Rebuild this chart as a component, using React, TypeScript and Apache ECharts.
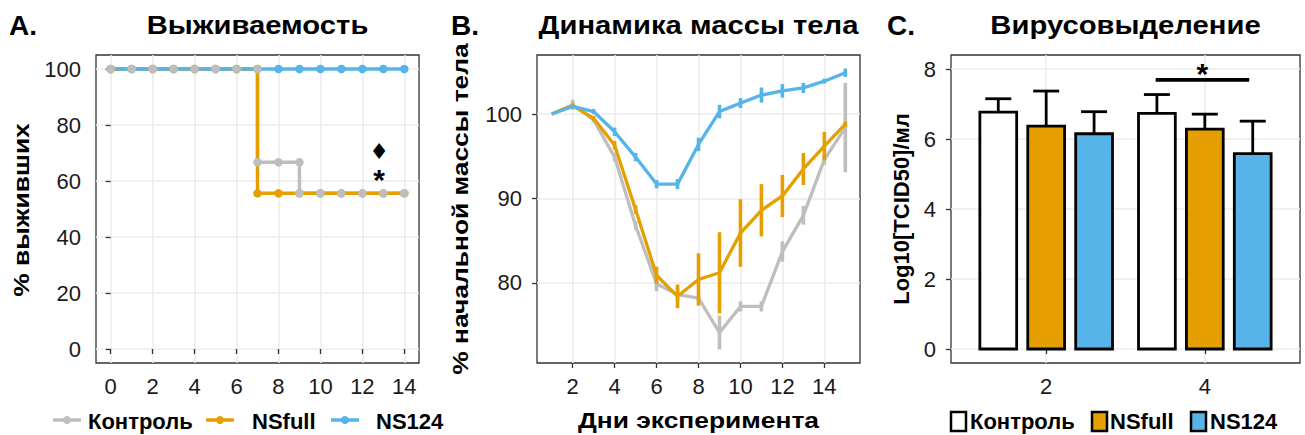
import React, { useEffect, useRef } from "react";
import * as echarts from "echarts";

const FONT = '"Liberation Sans", Arial, Helvetica, sans-serif';
const GRAY = "#BEBEBE";
const ORANGE = "#E69F00";
const BLUE = "#56B4E9";
const TXT = "#1a1a1a";

const groupNames = ["Контроль", "NSfull", "NS124"];
const panelTitles = ["Выживаемость", "Динамика массы тела", "Вирусовыделение"];
const panelLetters = ["A.", "B.", "C."];
const axisTitles = ["% выживших", "% начальной массы тела", "Дни эксперимента", "Log10[TCID50]/мл"];

// ---------- Panel A: survival ----------
const survivalControl: number[][] = [
  [0, 100], [1, 100], [2, 100], [3, 100], [4, 100], [5, 100], [6, 100], [7, 100],
  [7, 66.7], [8, 66.7], [9, 66.7], [9, 55.6], [10, 55.6], [11, 55.6], [12, 55.6], [13, 55.6], [14, 55.6],
];
const survivalNSfull: number[][] = [
  [0, 100], [1, 100], [2, 100], [3, 100], [4, 100], [5, 100], [6, 100], [7, 100],
  [7, 55.6], [8, 55.6], [9, 55.6], [10, 55.6], [11, 55.6], [12, 55.6], [13, 55.6], [14, 55.6],
];
const survivalNS124: number[][] = [
  [0, 100], [1, 100], [2, 100], [3, 100], [4, 100], [5, 100], [6, 100], [7, 100],
  [8, 100], [9, 100], [10, 100], [11, 100], [12, 100], [13, 100], [14, 100],
];
const survivalTicksX = [0, 2, 4, 6, 8, 10, 12, 14];
const survivalTicksY = [0, 20, 40, 60, 80, 100];
const survivalMarks = ["♦", "*"];

// ---------- Panel B: body weight ----------
const weightDays = [1, 2, 3, 4, 5, 6, 7, 8, 9, 10, 11, 12, 13, 14, 15];
const weightControl = [100, 101.1, 99.3, 94.9, 86.8, 79.9, 78.6, 78.2, 74.1, 77.2, 77.2, 83.7, 88.0, 94.6, 98.4];
const weightControlErr = [0, 0.6, 0.3, 0.5, 0.5, 0.9, 0.8, 0.4, 2.0, 0.6, 0.6, 1.2, 1.1, 0.6, 5.3];
const weightNSfull = [100, 101.0, 99.5, 96.3, 88.7, 80.9, 78.4, 80.4, 81.2, 85.9, 88.6, 90.3, 93.5, 96.2, 98.8];
const weightNSfullErr = [0, 0.3, 0.3, 0.5, 0.5, 1.0, 1.4, 3.1, 4.8, 4.0, 3.1, 2.5, 1.9, 1.7, 0.3];
const weightNS124 = [100, 100.9, 100.3, 97.9, 94.9, 91.7, 91.7, 96.4, 100.3, 101.3, 102.25, 102.75, 103.1, 103.9, 104.9];
const weightNS124Err = [0, 0.2, 0.3, 0.5, 0.5, 0.5, 0.6, 0.8, 0.8, 0.6, 0.9, 0.8, 0.6, 0.3, 0.5];
const weightTicksX = [2, 4, 6, 8, 10, 12, 14];
const weightTicksY = [80, 90, 100];

// ---------- Panel C: virus shedding ----------
const virusDays = ["2", "4"];
const virusControl = [6.77, 6.73];
const virusControlErr = [0.38, 0.54];
const virusNSfull = [6.37, 6.28];
const virusNSfullErr = [1.0, 0.43];
const virusNS124 = [6.15, 5.58];
const virusNS124Err = [0.63, 0.93];
const virusTicksY = [0, 2, 4, 6, 8];
const virusSignif = "*";

const axisBase = (ticks: number[], margin: number) => ({
  type: "value",
  axisLine: { show: false },
  axisTick: { show: true, length: 5, customValues: ticks, lineStyle: { color: "#333", width: 1.3 } },
  axisLabel: { customValues: ticks, color: TXT, fontSize: 22, fontFamily: FONT, margin },
  splitLine: { show: true, lineStyle: { color: "#EBEBEB", width: 1.5 } },
});

function errRender(color: string) {
  return (params: any, api: any) => {
    const x = api.value(0), m = api.value(1), e = api.value(2);
    if (!e) return null;
    const p1 = api.coord([x, m - e]);
    const p2 = api.coord([x, m + e]);
    return {
      type: "line",
      shape: { x1: p1[0], y1: p1[1], x2: p2[0], y2: p2[1] },
      style: { stroke: color, lineWidth: 3.6 },
    };
  };
}

function barRender(fill: string, offset: number) {
  return (params: any, api: any) => {
    const x = api.value(0) + offset, m = api.value(1), e = api.value(2);
    const half = 0.116, cap = 0.082;
    const tl = api.coord([x - half, m]);
    const br = api.coord([x + half, 0]);
    const top = api.coord([x, m + e]);
    const cl = api.coord([x - cap, m + e]);
    const cr = api.coord([x + cap, m + e]);
    return {
      type: "group",
      children: [
        { type: "line", shape: { x1: top[0], y1: tl[1], x2: top[0], y2: top[1] }, style: { stroke: "#000", lineWidth: 2.8 } },
        { type: "line", shape: { x1: cl[0], y1: cl[1], x2: cr[0], y2: cr[1] }, style: { stroke: "#000", lineWidth: 2.8 } },
        { type: "rect", shape: { x: tl[0], y: tl[1], width: br[0] - tl[0], height: br[1] - tl[1] }, style: { fill, stroke: "#000", lineWidth: 2.8 } },
      ],
    };
  };
}

export default function App() {
  const ref = useRef<HTMLDivElement>(null);
  useEffect(() => {
    if (!ref.current) return;
    const chart = echarts.init(ref.current, null, { renderer: "svg" });

    const wB = (vals: number[], errs: number[]) => weightDays.map((d, i) => [d, vals[i], errs[i]]);
    const vC = (vals: number[], errs: number[]) => vals.map((v, i) => [i + 1, v, errs[i]]);

    const text = (x: number, y: number, t: string, size: number, align = "left", scaleX = 1, rotation = 0) => ({
      type: "text",
      x,
      y,
      scaleX,
      rotation,
      style: { text: t, fontSize: size, fontWeight: "bold", fontFamily: FONT, fill: "#000", align, verticalAlign: "middle" },
    });

    const lgA = (x: number, color: string, label: string, tx: number) => [
      { type: "line", shape: { x1: x, y1: 420, x2: x + 28, y2: 420 }, style: { stroke: color, lineWidth: 3.5 } },
      { type: "circle", shape: { cx: x + 14, cy: 420, r: 4 }, style: { fill: color } },
      text(tx, 421, label, 22),
    ];
    const lgC = (x: number, color: string, label: string, tx: number) => [
      { type: "rect", shape: { x, y: 412, width: 15, height: 19 }, style: { fill: color, stroke: "#000", lineWidth: 2.5 } },
      text(tx, 421, label, 22),
    ];

    const gridBox = { top: 55, height: 308, show: true, borderColor: "#333", borderWidth: 1.3, backgroundColor: "#fff" };

    const option: any = {
      animation: false,
      backgroundColor: "#fff",
      grid: [
        { ...gridBox, left: 96, width: 323 },
        { ...gridBox, left: 537, width: 323 },
        { ...gridBox, left: 951, width: 349 },
      ],
      xAxis: [
        { ...axisBase(survivalTicksX, 12), gridIndex: 0, min: -0.7, max: 14.7 },
        { ...axisBase(weightTicksX, 12), gridIndex: 1, min: 0.3, max: 15.7 },
        {
          ...axisBase([1, 2], 12), gridIndex: 2, min: 0.4, max: 2.6,
          axisLabel: { ...axisBase([1, 2], 12).axisLabel, formatter: (v: number) => virusDays[Math.round(v) - 1] },
        },
      ],
      yAxis: [
        { ...axisBase(survivalTicksY, 15), gridIndex: 0, min: -5, max: 105 },
        { ...axisBase(weightTicksY, 15), gridIndex: 1, min: 70.5, max: 107 },
        {
          ...axisBase(virusTicksY, 15), gridIndex: 2, min: -0.4, max: 8.4,
          name: axisTitles[3], nameLocation: "middle", nameGap: 39,
          nameTextStyle: { fontSize: 22, fontWeight: "bold", fontFamily: FONT, color: "#000" },
        },
      ],
      series: [
        // Panel A lines
        { name: groupNames[0], type: "line", xAxisIndex: 0, yAxisIndex: 0, data: survivalControl, symbol: "none", lineStyle: { color: GRAY, width: 3.5 }, z: 2 },
        { name: groupNames[1], type: "line", xAxisIndex: 0, yAxisIndex: 0, data: survivalNSfull, symbol: "none", lineStyle: { color: ORANGE, width: 3.5 }, z: 3 },
        { name: groupNames[2], type: "line", xAxisIndex: 0, yAxisIndex: 0, data: survivalNS124, symbol: "none", lineStyle: { color: BLUE, width: 3.5 }, z: 4 },
        // Panel A points
        { name: groupNames[2], type: "scatter", xAxisIndex: 0, yAxisIndex: 0, data: survivalNS124, symbolSize: 8.5, itemStyle: { color: BLUE, opacity: 1 }, z: 5 },
        { name: groupNames[1], type: "scatter", xAxisIndex: 0, yAxisIndex: 0, data: survivalNSfull, symbolSize: 8.5, itemStyle: { color: ORANGE, opacity: 1 }, z: 6 },
        { name: groupNames[0], type: "scatter", xAxisIndex: 0, yAxisIndex: 0, data: survivalControl, symbolSize: 8.5, itemStyle: { color: GRAY, opacity: 1 }, z: 7 },
        // Panel A annotations
        {
          type: "custom", xAxisIndex: 0, yAxisIndex: 0, z: 8, data: [[12.8, 70.5, 0], [12.8, 62.5, 1]],
          renderItem: (params: any, api: any) => {
            const p = api.coord([api.value(0), api.value(1)]);
            const idx = api.value(2);
            return {
              type: "text", x: p[0], y: idx === 1 ? p[1] + 5 : p[1],
              style: { text: survivalMarks[idx], fontSize: idx === 1 ? 30 : 22, fontWeight: "bold", fontFamily: idx === 1 ? FONT : '"DejaVu Sans", sans-serif', fill: "#000", align: "center", verticalAlign: "middle" },
            };
          },
        },
        // Panel B lines + error bars
        { name: groupNames[0], type: "line", xAxisIndex: 1, yAxisIndex: 1, data: wB(weightControl, weightControlErr), symbol: "none", lineStyle: { color: GRAY, width: 3.3 }, z: 2 },
        { type: "custom", xAxisIndex: 1, yAxisIndex: 1, data: wB(weightControl, weightControlErr), renderItem: errRender(GRAY), z: 2 },
        { name: groupNames[1], type: "line", xAxisIndex: 1, yAxisIndex: 1, data: wB(weightNSfull, weightNSfullErr), symbol: "none", lineStyle: { color: ORANGE, width: 3.3 }, z: 3 },
        { type: "custom", xAxisIndex: 1, yAxisIndex: 1, data: wB(weightNSfull, weightNSfullErr), renderItem: errRender(ORANGE), z: 3 },
        { name: groupNames[2], type: "line", xAxisIndex: 1, yAxisIndex: 1, data: wB(weightNS124, weightNS124Err), symbol: "none", lineStyle: { color: BLUE, width: 3.3 }, z: 4 },
        { type: "custom", xAxisIndex: 1, yAxisIndex: 1, data: wB(weightNS124, weightNS124Err), renderItem: errRender(BLUE), z: 4 },
        // Panel C bars
        { name: groupNames[0], type: "custom", xAxisIndex: 2, yAxisIndex: 2, data: vC(virusControl, virusControlErr), renderItem: barRender("#FFFFFF", -0.302), z: 3 },
        { name: groupNames[1], type: "custom", xAxisIndex: 2, yAxisIndex: 2, data: vC(virusNSfull, virusNSfullErr), renderItem: barRender(ORANGE, 0), z: 3 },
        { name: groupNames[2], type: "custom", xAxisIndex: 2, yAxisIndex: 2, data: vC(virusNS124, virusNS124Err), renderItem: barRender(BLUE, 0.302), z: 3 },
        // Panel C significance bracket
        {
          type: "custom", xAxisIndex: 2, yAxisIndex: 2, z: 4, data: [[2, 7.69]],
          renderItem: (params: any, api: any) => {
            const g = api.value(0), y = api.value(1);
            const a = api.coord([g - 0.31, y]);
            const b = api.coord([g + 0.28, y]);
            return {
              type: "group",
              children: [
                { type: "line", shape: { x1: a[0], y1: a[1], x2: b[0], y2: b[1] }, style: { stroke: "#000", lineWidth: 3.8 } },
                { type: "text", x: (a[0] + b[0]) / 2, y: a[1] - 6, style: { text: virusSignif, fontSize: 30, fontWeight: "bold", fontFamily: FONT, fill: "#000", align: "center", verticalAlign: "middle" } },
              ],
            };
          },
        },
      ],
      graphic: [
        text(9, 25, panelLetters[0], 28),
        text(257.5, 25, panelTitles[0], 26, "center", 1.125),
        text(451, 25, panelLetters[1], 28),
        text(698.5, 25, panelTitles[1], 26, "center", 1.125),
        text(887, 25, panelLetters[2], 28),
        text(1125.5, 25, panelTitles[2], 26, "center", 1.125),
        text(21, 210, axisTitles[0], 22, "center", 1.2, Math.PI / 2),
        text(460, 209, axisTitles[1], 22, "center", 1.2, Math.PI / 2),
        text(698.5, 420, axisTitles[2], 22, "center", 1.2),
        ...lgA(53, GRAY, groupNames[0], 88),
        ...lgA(206, ORANGE, groupNames[1], 252),
        ...lgA(331, BLUE, groupNames[2], 376),
        ...lgC(951, "#FFFFFF", groupNames[0], 970),
        ...lgC(1092, ORANGE, groupNames[1], 1110),
        ...lgC(1191, BLUE, groupNames[2], 1210),
      ],
    };
    chart.setOption(option);
    return () => chart.dispose();
  }, []);
  return <div ref={ref} style={{ position: "fixed", left: 0, top: 0, width: 1305, height: 435 }} />;
}
